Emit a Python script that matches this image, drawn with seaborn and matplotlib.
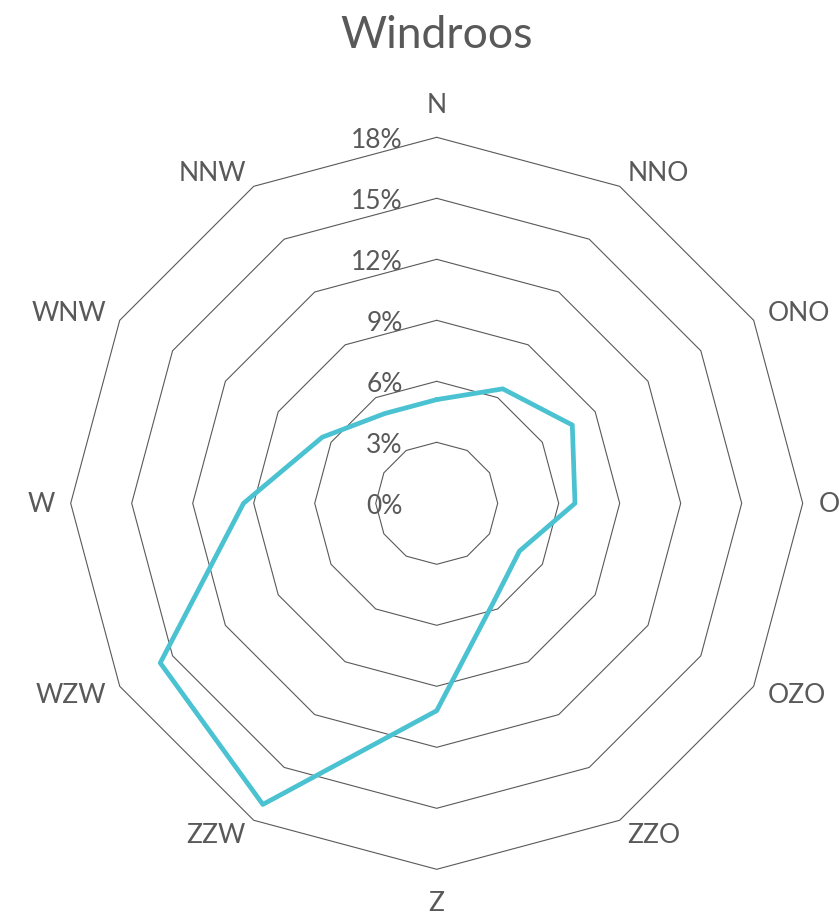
import numpy as np
import pandas as pd
import matplotlib
matplotlib.use("Agg")
import matplotlib.pyplot as plt
import seaborn as sns

# ---- data ----
directions = ["N", "NNO", "ONO", "O", "OZO", "ZZO", "Z", "ZZW", "WZW", "W", "WNW", "NNW"]
frequency = [5.1, 6.5, 7.7, 6.8, 4.7, 5.6, 10.2, 17.1, 15.7, 9.5, 6.5, 5.1]
r_ticks = [0, 3, 6, 9, 12, 15, 18]
r_tick_labels = ["0%", "3%", "6%", "9%", "12%", "15%", "18%"]
title = "Windroos"

TEXT = "#595959"
GRID = "#595959"
LINE = "#4AC2D1"

sns.set_theme(style="white")
plt.rcParams["font.family"] = ["Lato", "DejaVu Sans"]

W, H = 839, 920
fig = plt.figure(figsize=(W / 100, H / 100), dpi=100)
cx, cy, R = 436.7, 504.3, 366.0
ax = fig.add_axes([(cx - R) / W, (H - cy - R) / H, 2 * R / W, 2 * R / H], projection="polar")
ax.set_theta_zero_location("N")
ax.set_theta_direction(-1)
ax.set_ylim(0, max(r_ticks))
ax.grid(False)
ax.spines["polar"].set_visible(False)
ax.set_xticks([])
ax.set_yticks([])

n = len(directions)
angles = np.linspace(0, 2 * np.pi, n, endpoint=False)
closed_angles = np.append(angles, angles[0] + 2 * np.pi)

# polygon gridlines
for level in r_ticks[1:]:
    ax.plot(closed_angles, [level] * (n + 1), color=GRID, lw=0.8, clip_on=False, zorder=1)

# data line
df = pd.DataFrame({"angle": closed_angles, "freq": frequency + frequency[:1]})
sns.lineplot(data=df, x="angle", y="freq", ax=ax, color=LINE, lw=3.4,
             sort=False, estimator=None, zorder=3)
ax.lines[-1].set_clip_on(False)
ax.set_xlabel("")
ax.set_ylabel("")

# radial tick labels
for v, lab in zip(r_ticks, r_tick_labels):
    ax.annotate(lab, xy=(0, v), xytext=(-34, -2), textcoords="offset pixels",
                ha="right", va="center", fontsize=19, color=TEXT, zorder=2,
                annotation_clip=False)

# category labels
for ang, lab in zip(angles, directions):
    s, c = np.sin(ang), np.cos(ang)
    if abs(s) < 0.01:
        ha = "center"
        pad = 33
    else:
        ha = "left" if s > 0 else "right"
        pad = 16
    ax.annotate(lab, xy=(ang, max(r_ticks)), xytext=(pad * s, pad * c),
                textcoords="offset pixels", ha=ha, va="center",
                fontsize=19, color=TEXT, annotation_clip=False)

fig.text(cx / W, 1 - 35 / H, title, ha="center", va="center", fontsize=32, color=TEXT)

fig.savefig("out.png", dpi=100, facecolor="white")
